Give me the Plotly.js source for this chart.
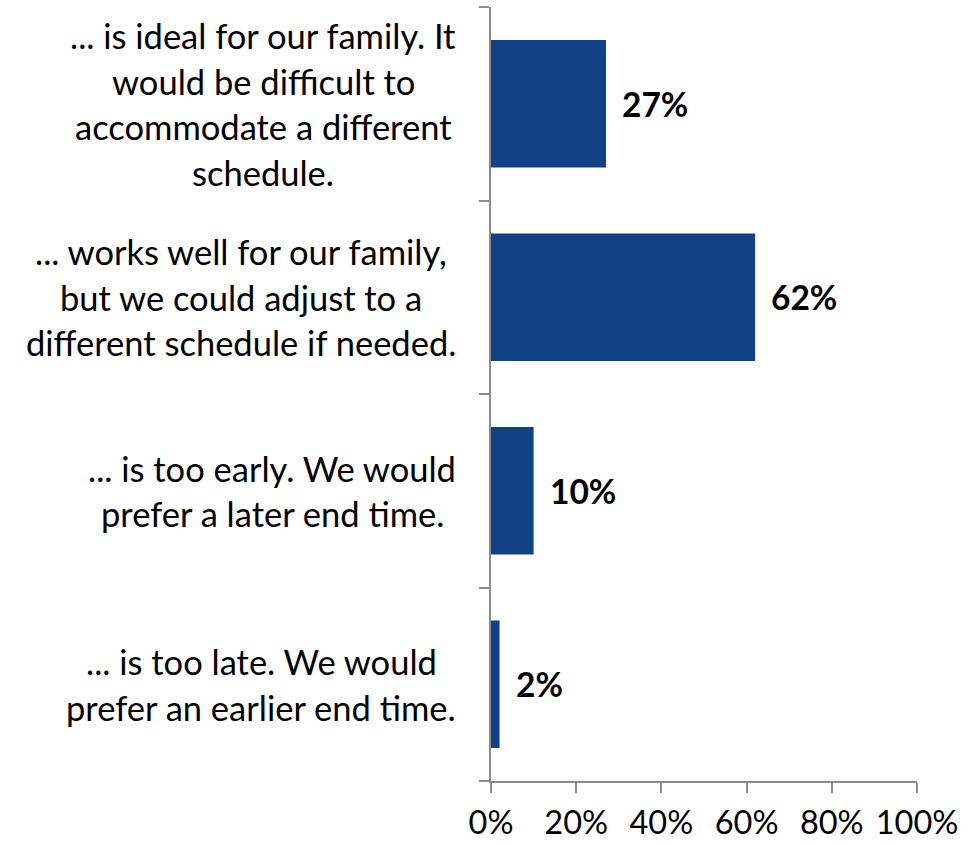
<!DOCTYPE html>
<html>
<head>
<meta charset="utf-8">
<script src="https://cdn.plot.ly/plotly-3.0.1.min.js"></script>
<style>html,body{margin:0;padding:0;background:#fff;}#chart{width:979px;height:845px;}</style>
</head>
<body>
<div id="chart"></div>
<script>
// Data
var categories = [
  "... is ideal for our family. It|would be difficult to|accommodate a different|schedule.",
  "... works well for our family,|but we could adjust to a|different schedule if needed.",
  "... is too early. We would|prefer a later end time.",
  "... is too late. We would|prefer an earlier end time."
];
var values = [27, 62, 10, 2];
var xTickVals = [0, 20, 40, 60, 80, 100];
var xTickText = ["0%", "20%", "40%", "60%", "80%", "100%"];

var FONT = "Lato, Calibri, 'Open Sans', sans-serif";
var CAT_SIZE = 34.5;
var VAL_SIZE = 33.5;
var TICK_SIZE = 32.5;
var LINE_H = 45.5;
var BAR_COLOR = "#134185";
var AXIS_COLOR = "#8c8c8c";

var ids = categories.map(function(c, i){ return "c" + i; });

var trace = {
  type: "bar",
  orientation: "h",
  y: ids,
  x: values,
  marker: {color: BAR_COLOR},
  hoverinfo: "none"
};

var annotations = [];
categories.forEach(function(cat, i){
  var lines = cat.split("|");
  var n = lines.length;
  lines.forEach(function(line, j){
    annotations.push({
      xref: "paper", yref: "y",
      x: 0, y: ids[i],
      xanchor: "right", yanchor: "middle",
      xshift: -33,
      yshift: ((n - 1) / 2 - j) * LINE_H,
      text: line,
      showarrow: false,
      align: "center",
      font: {family: FONT, size: CAT_SIZE, color: "#000"}
    });
  });
});
values.forEach(function(v, i){
  annotations.push({
    xref: "x", yref: "y",
    x: v, y: ids[i],
    xanchor: "left", yanchor: "middle",
    xshift: 14,
    text: "<b>" + v + "%</b>",
    showarrow: false,
    font: {family: FONT, size: VAL_SIZE, color: "#000"}
  });
});

var layout = {
  width: 979, height: 845,
  margin: {l: 491, r: 62, t: 7, b: 64},
  paper_bgcolor: "#fff", plot_bgcolor: "#fff",
  showlegend: false,
  bargap: 0.34,
  xaxis: {
    range: [0, 100],
    tickvals: xTickVals, ticktext: xTickText,
    showgrid: false, zeroline: false,
    showline: true, linecolor: AXIS_COLOR, linewidth: 2,
    ticks: "outside", ticklen: 10, tickwidth: 2, tickcolor: AXIS_COLOR,
    ticklabelstandoff: 2,
    tickfont: {family: FONT, size: TICK_SIZE, color: "#000"},
    fixedrange: true
  },
  yaxis: {
    type: "category",
    categoryorder: "array", categoryarray: ids.slice().reverse(),
    autorange: true,
    showgrid: false, zeroline: false,
    showline: true, linecolor: AXIS_COLOR, linewidth: 2,
    ticks: "outside", tickson: "boundaries", ticklen: 10, tickwidth: 2, tickcolor: AXIS_COLOR,
    showticklabels: false,
    fixedrange: true
  },
  annotations: annotations
};

Plotly.newPlot("chart", [trace], layout, {displayModeBar: false, staticPlot: true}).then(function(){
  // center lines of each label block around a common center
  var gd = document.getElementById("chart");
  var anns = gd.querySelectorAll(".annotation");
  var idx = 0;
  var updates = {};
  categories.forEach(function(cat, i){
    var lines = cat.split("|");
    var widths = [];
    for (var j = 0; j < lines.length; j++) {
      widths.push(anns[idx + j].querySelector("text").getBBox().width);
    }
    var maxW = Math.max.apply(null, widths);
    for (var j = 0; j < lines.length; j++) {
      updates["annotations[" + (idx + j) + "].xshift"] = -33 - (maxW - widths[j]) / 2;
    }
    idx += lines.length;
  });
  return Plotly.relayout(gd, updates);
});
</script>
</body>
</html>
